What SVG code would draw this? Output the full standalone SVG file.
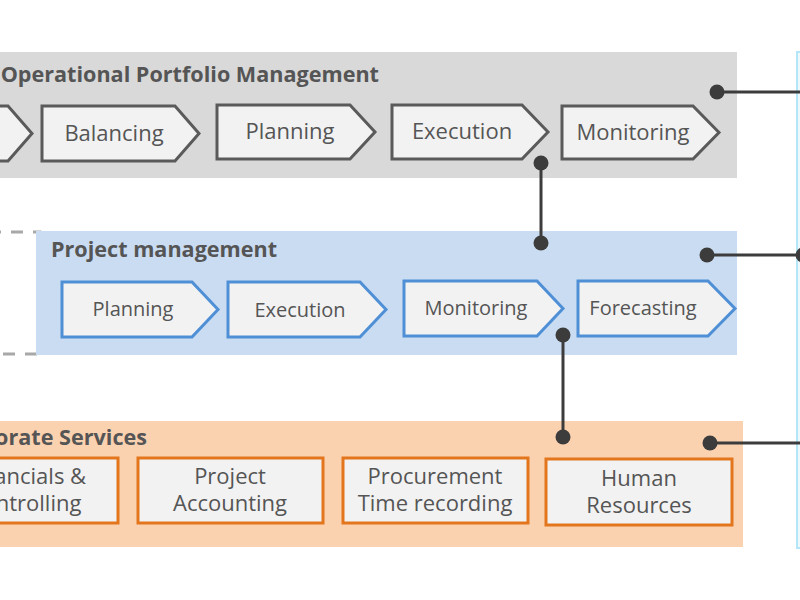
<svg xmlns="http://www.w3.org/2000/svg" width="800" height="600" viewBox="0 0 800 600">
<style>
.title{font-family:"Open Sans","Liberation Sans",sans-serif;font-weight:bold;font-size:21.6px;fill:#555}
.lbl{font-family:"Open Sans","Liberation Sans",sans-serif;font-size:22px;fill:#555;text-anchor:middle}
.lbls{font-family:"Open Sans","Liberation Sans",sans-serif;font-size:20px;fill:#555;text-anchor:middle}
.gch{fill:#f2f2f2;stroke:#5a5a5a;stroke-width:3}
.bch{fill:#f2f2f2;stroke:#4f8fd6;stroke-width:3}
.obox{fill:#f2f2f2;stroke:#e3761c;stroke-width:3}
.conn{stroke:#3c3c3c;stroke-width:3;fill:none}
.dot{fill:#3c3c3c}
</style>
<rect width="800" height="600" fill="#ffffff"/>
<g id="side-bar"><rect x="797" y="52" width="20" height="496" fill="#eef9fd" stroke="#b5e6f7" stroke-width="2"/></g>
<g id="portfolio-band">
<rect x="-10" y="52" width="747" height="126" fill="#d9d9d9"/>
<text class="title" x="379" y="82" text-anchor="end">Operational Portfolio Management</text>
</g>
<g id="pm-bracket"><rect x="-99" y="232" width="139" height="122" fill="none" stroke="#a8a8a8" stroke-width="3" stroke-dasharray="12 10"/></g>
<g id="pm-band">
<rect x="36" y="231" width="701" height="124" fill="#c9dcf2"/>
<text class="title" x="51" y="257">Project management</text>
</g>
<g id="cs-band">
<rect x="-10" y="421" width="753" height="126" fill="#fbd2b0"/>
<text class="title" x="147" y="445" text-anchor="end">Corporate Services</text>
</g>
<g id="op-prev"><path class="gch" d="M-130,106 L8,106 L32,133.5 L8,161 L-130,161 Z"/></g>
<g id="op-balancing"><path class="gch" d="M42,106 L175,106 L199,133.5 L175,161 L42,161 Z"/><text class="lbl" x="114" y="141">Balancing</text></g>
<g id="op-planning"><path class="gch" d="M217,105 L350,105 L375,132 L350,159 L217,159 Z"/><text class="lbl" x="290" y="139">Planning</text></g>
<g id="op-execution"><path class="gch" d="M392,105 L522,105 L548,132 L522,159 L392,159 Z"/><text class="lbl" x="462" y="139">Execution</text></g>
<g id="op-monitoring"><path class="gch" d="M562,106 L693,106 L719,132.5 L693,159 L562,159 Z"/><text class="lbl" x="633" y="140">Monitoring</text></g>
<g id="pm-planning"><path class="bch" d="M62,282 L192,282 L218,309.5 L192,337 L62,337 Z"/><text class="lbls" x="133" y="316">Planning</text></g>
<g id="pm-execution"><path class="bch" d="M228,282 L360,282 L386,309.5 L360,337 L228,337 Z"/><text class="lbls" x="300" y="317">Execution</text></g>
<g id="pm-monitoring"><path class="bch" d="M404,281 L537,281 L563,308.5 L537,336 L404,336 Z"/><text class="lbls" x="476" y="315">Monitoring</text></g>
<g id="pm-forecasting"><path class="bch" d="M578,281 L708,281 L735,308.5 L708,336 L578,336 Z"/><text class="lbls" x="643" y="315">Forecasting</text></g>
<g id="cs-financials"><rect class="obox" x="-67" y="458" width="185" height="65"/><text class="lbl" x="25" y="484">Financials &amp;</text><text class="lbl" x="25" y="511">Controlling</text></g>
<g id="cs-accounting"><rect class="obox" x="138" y="458" width="185" height="65"/><text class="lbl" x="230" y="484">Project</text><text class="lbl" x="230" y="511">Accounting</text></g>
<g id="cs-procurement"><rect class="obox" x="343" y="458" width="185" height="65"/><text class="lbl" x="435" y="484">Procurement</text><text class="lbl" x="435" y="511">Time recording</text></g>
<g id="cs-hr"><rect class="obox" x="546" y="459" width="186" height="66"/><text class="lbl" x="639" y="486">Human</text><text class="lbl" x="639" y="513">Resources</text></g>
<g id="connectors">
<line class="conn" x1="717" y1="92" x2="800" y2="92"/><circle class="dot" cx="717" cy="92" r="7.5"/>
<line class="conn" x1="541" y1="163" x2="541" y2="243"/><circle class="dot" cx="541" cy="163" r="7.5"/><circle class="dot" cx="541" cy="243" r="7.5"/>
<line class="conn" x1="707" y1="255" x2="800" y2="255"/><circle class="dot" cx="707" cy="255" r="7.5"/><circle class="dot" cx="803" cy="255" r="7.5"/>
<line class="conn" x1="563" y1="335" x2="563" y2="437"/><circle class="dot" cx="563" cy="335" r="7.5"/><circle class="dot" cx="563" cy="437" r="7.5"/>
<line class="conn" x1="710" y1="443" x2="800" y2="443"/><circle class="dot" cx="710" cy="443" r="7.5"/>
</g>
</svg>
